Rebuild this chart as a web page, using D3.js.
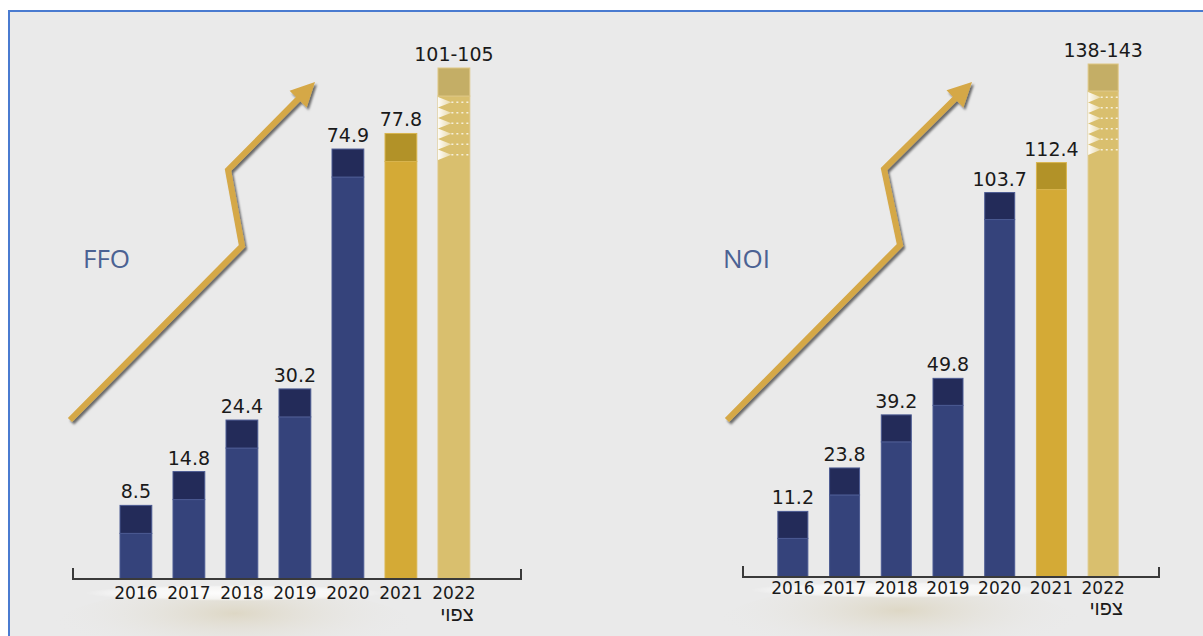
<!DOCTYPE html>
<html>
<head>
<meta charset="utf-8">
<script src="https://cdn.jsdelivr.net/npm/d3@7"></script>
<style>
body{margin:0;background:#fff;}
#canvas{display:block;}
</style>
</head>
<body>
<svg id="canvas" width="1203" height="636"></svg>
<script>
// data
let years=["2016","2017","2018","2019","2020","2021","2022"];
let kinds=["actual","actual","actual","actual","actual","current","forecast"];
let ffoValues=[8.5,14.8,24.4,30.2,74.9,77.8,105];
let ffoLabels=["8.5","14.8","24.4","30.2","74.9","77.8","101-105"];
let noiValues=[11.2,23.8,39.2,49.8,103.7,112.4,143];
let noiLabels=["11.2","23.8","39.2","49.8","103.7","112.4","138-143"];
let titles=["FFO","NOI"];
let forecastNote="צפוי";

let colors={
  actual:{body:"#35437b",cap:"#232b59",edge:"#4b5a92"},
  current:{body:"#d4aa36",cap:"#b29228",edge:"#d9b54e"},
  forecast:{body:"#d9bf6e",cap:"#c4ae66",edge:"#dec682"}
};

// layout of the two panels
let panels=[
  {title:titles[0],values:ffoValues,labels:ffoLabels,band:[109.4,480.4],pad:0.4,base:579,top:96,max:90,
   axis:[73,521],titleX:83,yearY:599,noteY:621,cap:28,
   arrow:[[70,420],[242,246],[228,170]],tip:[315,82],glow:[235,593]},
  {title:titles[1],values:noiValues,labels:noiLabels,band:[767,1129],pad:0.42,base:577,top:91,max:141,
   axis:[743,1159],titleX:723,yearY:594,noteY:615,cap:27,
   arrow:[[727,420],[900,245],[884,169]],tip:[972,82],glow:[900,590]}
];

let canvas=d3.select("#canvas");
let defs=canvas.append("defs");

let sh=defs.append("filter").attr("id","shadow").attr("x","-20%").attr("y","-20%").attr("width","140%").attr("height","140%");
sh.append("feDropShadow").attr("dx",2).attr("dy",2.5).attr("stdDeviation",1.3).attr("flood-color","#000").attr("flood-opacity",0.55);

let tg=defs.append("linearGradient").attr("id","tooth");
tg.append("stop").attr("offset","0%").attr("stop-color","#fff").attr("stop-opacity",0.95);
tg.append("stop").attr("offset","100%").attr("stop-color","#fff").attr("stop-opacity",0.4);

let wg=defs.append("radialGradient").attr("id","whiteGlow");
wg.append("stop").attr("offset","0%").attr("stop-color","#fff").attr("stop-opacity",0.95);
wg.append("stop").attr("offset","75%").attr("stop-color","#fff").attr("stop-opacity",0.6);
wg.append("stop").attr("offset","100%").attr("stop-color","#fff").attr("stop-opacity",0);

let bg=defs.append("radialGradient").attr("id","beigeGlow").attr("cy","30%");
bg.append("stop").attr("offset","0%").attr("stop-color","#dcd5c1").attr("stop-opacity",0.9);
bg.append("stop").attr("offset","100%").attr("stop-color","#e9e9e9").attr("stop-opacity",0);

// background + frame
canvas.append("rect").attr("x",9).attr("y",11).attr("width",1210).attr("height",640)
  .attr("fill","#eaeaea").attr("stroke","#4a7bd0").attr("stroke-width",2);

panels.forEach(p=>{
  let g=canvas.append("g");
  let x=d3.scaleBand().domain(years).range(p.band).paddingInner(p.pad).paddingOuter(p.pad/2);
  let y=d3.scaleLinear().domain([0,p.max]).range([p.base,p.top]).clamp(true);
  let bw=x.bandwidth();

  // glow under axis
  g.append("ellipse").attr("cx",p.glow[0]).attr("cy",p.glow[1]+38).attr("rx",185).attr("ry",44).attr("fill","url(#beigeGlow)");
  g.append("ellipse").attr("cx",p.glow[0]).attr("cy",p.glow[1]).attr("rx",150).attr("ry",8).attr("fill","url(#whiteGlow)");

  // title
  g.append("text").text(p.title).attr("x",p.titleX).attr("y",268)
    .style("font","26px 'Open Sans'").attr("fill","#4b6293");

  // arrow
  let a=p.arrow, t=p.tip;
  let dx=t[0]-a[2][0], dy=t[1]-a[2][1], len=Math.hypot(dx,dy);
  let ux=dx/len, uy=dy/len, hl=24, hw=12;
  let bx=t[0]-ux*hl, by=t[1]-uy*hl;
  let ag=g.append("g").attr("filter","url(#shadow)");
  ag.append("path").attr("d",d3.line()(a.concat([[bx+ux*2,by+uy*2]])))
    .attr("fill","none").attr("stroke","#d5a846").attr("stroke-width",6).attr("stroke-linejoin","miter");
  ag.append("path").attr("d",d3.line()([t,[bx-uy*hw,by+ux*hw],[bx+uy*hw,by-ux*hw]])+"Z").attr("fill","#d5a846");

  let rows=years.map((yr,i)=>({year:yr,kind:kinds[i],value:p.values[i],label:p.labels[i]}));

  // bar bodies
  g.selectAll(".body").data(rows).enter().append("rect")
    .attr("x",d=>x(d.year)).attr("y",d=>y(d.value)).attr("width",bw).attr("height",d=>p.base-y(d.value))
    .attr("fill",d=>colors[d.kind].body).attr("stroke",d=>colors[d.kind].edge).attr("stroke-width",1);
  // caps
  g.selectAll(".cap").data(rows).enter().append("rect")
    .attr("x",d=>x(d.year)).attr("y",d=>y(d.value)-p.cap).attr("width",bw).attr("height",p.cap)
    .attr("fill",d=>colors[d.kind].cap).attr("stroke",d=>colors[d.kind].edge).attr("stroke-width",1);

  // break teeth on forecast bar
  rows.filter(d=>d.kind=="forecast").forEach(d=>{
    let x0=x(d.year), t0=y(d.value)+1, th=10.5;
    for(let k=0;k<6;k++){
      let ty=t0+k*th;
      g.append("path").attr("d",`M${x0},${ty}L${x0+bw*0.42},${ty+th/2}L${x0},${ty+th}Z`).attr("fill","url(#tooth)");
      g.append("line").attr("x1",x0+bw*0.42).attr("x2",x0+bw).attr("y1",ty+th/2).attr("y2",ty+th/2)
        .attr("stroke","#fff").attr("stroke-opacity",0.75).attr("stroke-width",1.5).attr("stroke-dasharray","2,3");
    }
  });

  // value labels
  g.selectAll(".val").data(rows).enter().append("text").text(d=>d.label)
    .attr("x",d=>x(d.year)+bw/2).attr("y",d=>y(d.value)-p.cap-7)
    .attr("text-anchor","middle").style("font","19px 'DejaVu Sans'").attr("fill","#1a1a1a");

  // axis line
  g.append("path").attr("d",`M${p.axis[0]},${p.base-11}V${p.base}H${p.axis[1]}V${p.base-10}`)
    .attr("fill","none").attr("stroke","#3a3a3a").attr("stroke-width",2);

  // year labels
  g.selectAll(".yr").data(rows).enter().append("text").text(d=>d.year)
    .attr("x",d=>x(d.year)+bw/2).attr("y",p.yearY)
    .attr("text-anchor","middle").style("font","17px 'DejaVu Sans'").attr("fill","#1a1a1a");
  g.append("text").text(forecastNote).attr("x",x(years[6])+bw/2+3).attr("y",p.noteY)
    .attr("text-anchor","middle").style("font","20px 'Liberation Sans'").attr("fill","#1a1a1a");
});
</script>
</body>
</html>
